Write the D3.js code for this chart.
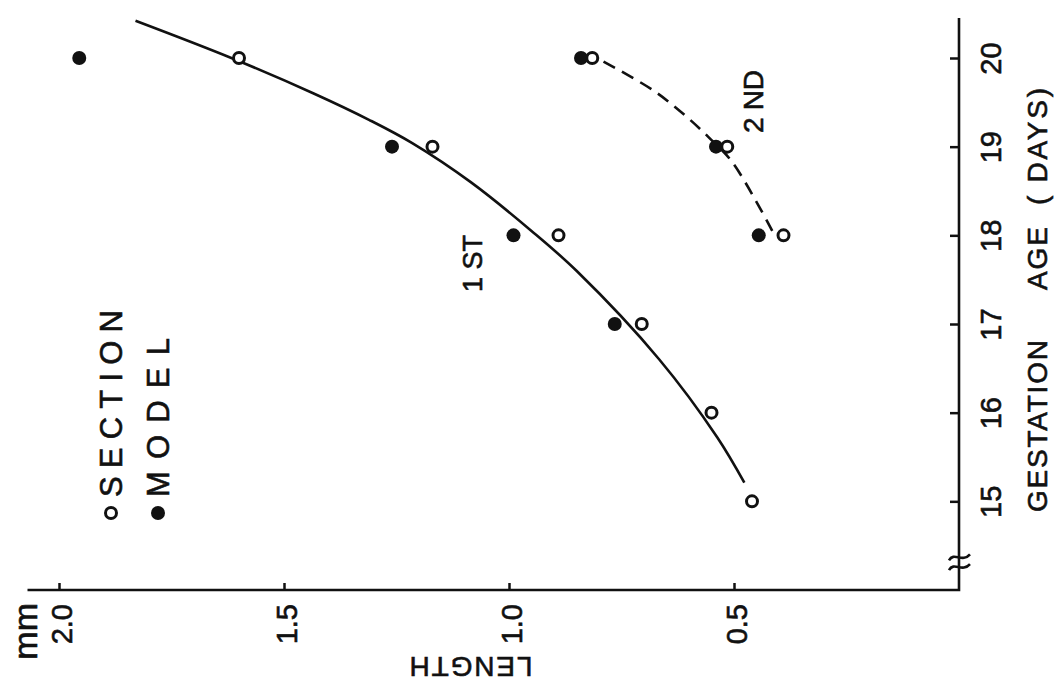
<!DOCTYPE html>
<html>
<head>
<meta charset="utf-8">
<script src="https://cdn.jsdelivr.net/npm/d3@7"></script>
<style>
  body { margin: 0; background: #fff; }
  text { font-family: "Liberation Sans", Arial, sans-serif; fill: #111; stroke: #111; stroke-width: 0.6px; }
  .axis line { stroke: #111; stroke-width: 2.5px; }
  .axis path { display: none; }
</style>
</head>
<body>
<svg id="chart"></svg>
<script>
// gestation age (days) and measured length (mm)
const ages = [15, 16, 17, 18, 19, 20];
const sectionFirst = [0.46, 0.55, 0.705, 0.89, 1.17, 1.60];
const modelFirst = [null, null, 0.765, 0.99, 1.26, 1.955];
const sectionSecond = [null, null, null, 0.39, 0.515, 0.815];
const modelSecond = [null, null, null, 0.445, 0.54, 0.84];

// hand drawn fitted curves
const fitAgeFirst = [15.21, 15.72, 16.6, 17.6, 18.05, 18.6, 19.04, 19.3, 19.6, 20.0, 20.42];
const fitLenFirst = [0.477, 0.537, 0.666, 0.85, 0.95, 1.085, 1.215, 1.31, 1.434, 1.617, 1.83];
const fitAgeSecond = [18.05, 18.82, 19.1, 19.38, 19.64, 19.96];
const fitLenSecond = [0.415, 0.503, 0.555, 0.615, 0.681, 0.79];

const ageTicks = [15, 16, 17, 18, 19, 20];
const lenTicks = [2.0, 1.5, 1.0, 0.5];

class RotatedGrowthChart {

  constructor(_config) {
    this.config = {
      parentElement: _config.parentElement,
      containerWidth: 1064,
      containerHeight: 697
    };
    this.initVis();
  }

  initVis() {
    let vis = this;

    // the whole figure is turned a quarter turn: length runs right-to-left,
    // age runs bottom-to-top
    vis.xLen = d3.scaleLinear().domain([0, 2]).range([959, 59]);
    vis.yAge = d3.scaleLinear().domain([14, 20]).range([590, 58]);

    vis.svg = d3.select(vis.config.parentElement)
        .attr('width', vis.config.containerWidth)
        .attr('height', vis.config.containerHeight);

    vis.chart = vis.svg.append('g');

    vis.renderAxes();
    vis.renderVis();
  }

  renderAxes() {
    let vis = this;
    const x0 = vis.xLen(0), y0 = vis.yAge(14);

    // length axis along the bottom
    const lenAxis = d3.axisBottom(vis.xLen)
        .tickValues(lenTicks)
        .tickFormat(d3.format('.1f'))
        .tickSizeInner(-7)
        .tickSizeOuter(0);
    const lenG = vis.chart.append('g')
        .attr('class', 'axis')
        .attr('transform', `translate(0,${y0})`)
        .call(lenAxis);
    lenG.selectAll('text')
        .attr('x', 0).attr('y', 0).attr('dy', 0)
        .attr('font-size', 29)
        .attr('text-anchor', 'end')
        .attr('transform', 'translate(12,14) rotate(-90)');

    // age axis on the right
    const ageAxis = d3.axisRight(vis.yAge)
        .tickValues(ageTicks)
        .tickFormat(d3.format('d'))
        .tickSizeInner(-9)
        .tickSizeOuter(0);
    const ageG = vis.chart.append('g')
        .attr('class', 'axis')
        .attr('transform', `translate(${x0},0)`)
        .call(ageAxis);
    ageG.selectAll('text')
        .attr('x', 0).attr('y', 0).attr('dy', 0)
        .attr('font-size', 29)
        .attr('text-anchor', 'middle')
        .attr('transform', 'translate(42,0) rotate(-90)');

    // axis lines
    vis.chart.append('path')
        .attr('d', `M${vis.xLen(2.07)},${y0}H${x0}V${vis.yAge(20.45)}`)
        .attr('fill', 'none')
        .attr('stroke', '#111')
        .attr('stroke-width', 2.6);

    // break marks on the age axis
    [14.38, 14.27].forEach(a => {
      const y = vis.yAge(a);
      vis.chart.append('path')
          .attr('d', `M${x0 - 10},${y + 4}C${x0 - 5},${y - 5} ${x0 + 3},${y + 7} ${x0 + 11},${y - 2}`)
          .attr('fill', 'none')
          .attr('stroke', '#111')
          .attr('stroke-width', 2.6);
    });

    // titles
    vis.chart.append('text')
        .attr('font-size', 34)
        .attr('text-anchor', 'end')
        .attr('transform', 'translate(37,603) rotate(-90)')
        .text('mm');

    vis.chart.append('text')
        .attr('font-size', 28)
        .attr('text-anchor', 'middle')
        .attr('textLength', 123)
        .attr('lengthAdjust', 'spacing')
        .attr('transform', 'translate(471,657) rotate(180)')
        .text('LENGTH');

    const titleParts = [
      {t: 'GESTATION', y: 512, len: 172},
      {t: 'AGE', y: 290, len: 63},
      {t: '( DAYS)', y: 205, len: 117}
    ];
    vis.chart.selectAll('.age-title')
        .data(titleParts)
      .join('text')
        .attr('class', 'age-title')
        .attr('font-size', 28)
        .attr('textLength', d => d.len)
        .attr('lengthAdjust', 'spacing')
        .attr('transform', d => `translate(1047,${d.y}) rotate(-90)`)
        .text(d => d.t);
  }

  renderVis() {
    let vis = this;

    const line = d3.line()
        .x(d => vis.xLen(d[1]))
        .y(d => vis.yAge(d[0]))
        .curve(d3.curveCatmullRom.alpha(0.5));

    vis.chart.append('path')
        .datum(d3.zip(fitAgeFirst, fitLenFirst))
        .attr('d', line)
        .attr('fill', 'none')
        .attr('stroke', '#111')
        .attr('stroke-width', 2.6);

    vis.chart.append('path')
        .datum(d3.zip(fitAgeSecond, fitLenSecond))
        .attr('d', line)
        .attr('fill', 'none')
        .attr('stroke', '#111')
        .attr('stroke-width', 2.6)
        .attr('stroke-dasharray', '13,8');

    const pts = (vals) => ages.map((a, i) => ({age: a, len: vals[i]})).filter(d => d.len != null);

    // model = filled dots
    vis.chart.selectAll('.model')
        .data(pts(modelFirst).concat(pts(modelSecond)))
      .join('circle')
        .attr('class', 'model')
        .attr('cx', d => vis.xLen(d.len))
        .attr('cy', d => vis.yAge(d.age))
        .attr('r', 7)
        .attr('fill', '#111');

    // section = open circles
    vis.chart.selectAll('.section')
        .data(pts(sectionFirst).concat(pts(sectionSecond)))
      .join('circle')
        .attr('class', 'section')
        .attr('cx', d => vis.xLen(d.len))
        .attr('cy', d => vis.yAge(d.age))
        .attr('r', 5.5)
        .attr('fill', '#fff')
        .attr('stroke', '#111')
        .attr('stroke-width', 3);

    // curve labels
    vis.chart.append('text')
        .attr('font-size', 27)
        .attr('transform', 'translate(482,292) rotate(-90)')
        .text('1 ST');
    vis.chart.append('text')
        .attr('font-size', 28)
        .attr('textLength', 63)
        .attr('lengthAdjust', 'spacing')
        .attr('transform', 'translate(763,133) rotate(-90)')
        .text('2 ND');

    // legend
    const legend = [
      {label: 'SECTION', x: 122, top: 310, open: true},
      {label: 'MODEL', x: 169, top: 338, open: false}
    ];
    const legStart = 497;
    legend.forEach(l => {
      vis.chart.append('circle')
          .attr('cx', l.x - 11)
          .attr('cy', legStart + 16)
          .attr('r', l.open ? 5.5 : 7)
          .attr('fill', l.open ? '#fff' : '#111')
          .attr('stroke', '#111')
          .attr('stroke-width', l.open ? 3 : 0);
      vis.chart.append('text')
          .attr('font-size', 31)
          .attr('textLength', legStart - l.top)
          .attr('lengthAdjust', 'spacing')
          .attr('transform', `translate(${l.x},${legStart}) rotate(-90)`)
          .text(l.label);
    });
  }
}

new RotatedGrowthChart({parentElement: '#chart'});
</script>
</body>
</html>
